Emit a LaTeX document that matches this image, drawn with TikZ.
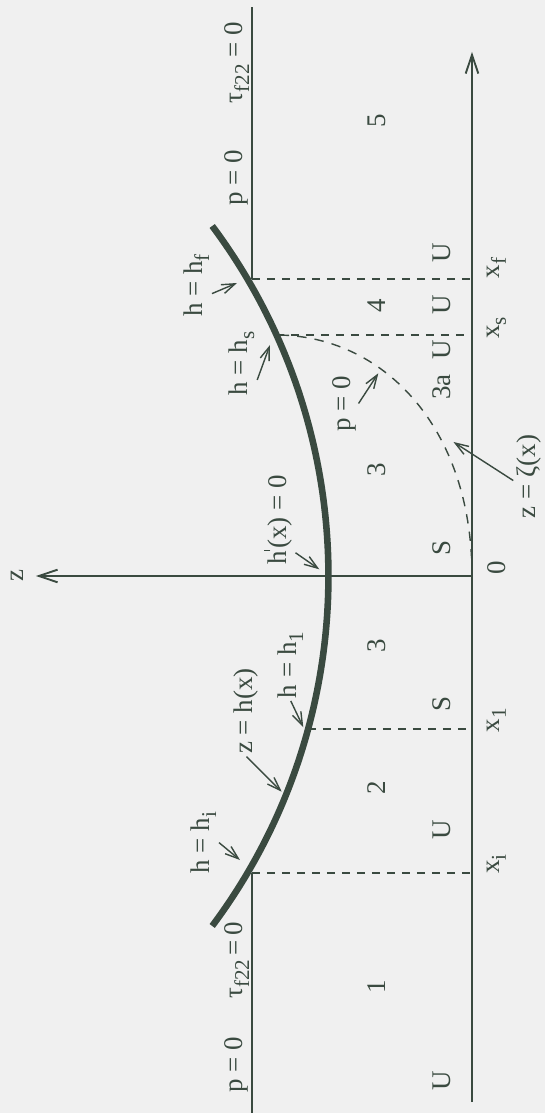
\documentclass[tikz,border=0pt]{standalone}
\usepackage{fontspec}
\setmainfont{Liberation Serif}
\usepackage{tikz}
\usetikzlibrary{arrows.meta}
\definecolor{ink}{RGB}{58,74,64}
\definecolor{paper}{RGB}{240,240,240}
\newcommand{\lo}[1]{\raisebox{-0.5ex}{\fontsize{9}{10}\selectfont #1}}
\newcommand{\tick}{\raisebox{1.35ex}{\rule{0.5pt}{0.55ex}}\kern0.6pt}

\begin{document}
\begin{tikzpicture}[x=0.015cm, y=0.015cm, rotate=90, transform shape,
	every node/.style={font=\fontsize{11.5}{14}\selectfont, text=ink, inner sep=1pt},
	axis/.style={draw=ink, line width=0.8pt, -{Straight Barb[length=2.8mm, width=1.9mm]}},
	wall/.style={draw=ink, line width=0.6pt},
	cut/.style={draw=ink, line width=0.7pt, dash pattern=on 3.4pt off 3pt},
	surf/.style={draw=ink, line width=2.8pt},
	pointer/.style={draw=ink, line width=0.6pt, -{Straight Barb[length=2mm, width=1.4mm]}},
	note/.style={anchor=base}, axlab/.style={anchor=north}]
	\fill[paper] (-537,-73) rectangle (576,472);
	\useasboundingbox (-537,-73) rectangle (576,472);
	\coordinate (O) at (0,0);
	\coordinate (xi) at (-297,0);
	\coordinate (x1) at (-153,0);
	\coordinate (xs) at (241,0);
	\coordinate (xf) at (297,0);
	\coordinate (ci) at (-297,220);
	\coordinate (c1) at (-153,164);
	\coordinate (cs) at (241,196);
	\coordinate (cf) at (297,220);
	\draw[axis] (-526,0) -- (524,0);
	\draw[axis] (O) -- (0,436);
	\node[note] (zlab) at (0,448) {z};
	\draw[wall] (-537,220) -- (ci);
	\draw[wall] (cf) -- (569,220);
	\draw[cut] (ci) -- (xi);
	\draw[cut] (c1) -- (x1);
	\draw[cut] (cs) -- (xs);
	\draw[cut] (cf) -- (xf);
	\draw[surf] (-350,259.8) arc (233.25:306.75:585);
	\draw[draw=ink, line width=0.6pt, dash pattern=on 4pt off 3.5pt] (O) .. controls (150,0) and (241,90) .. (cs);
	\node[note] (ptop) at (398.5,229) {p = 0};
	\node[note] (ttop) at (513.5,229) {τ\lo{f22} = 0};
	\node[note] (pbot) at (-489,229) {p = 0};
	\node[note] (tbot) at (-384.5,229) {τ\lo{f22}\,=\,0};
	\node (r1) at (-411,95) {1};
	\node (r2) at (-212,95) {2};
	\node (r3l) at (-70,95) {3};
	\node (r3r) at (106,95) {3};
	\node (r4) at (270,95) {4};
	\node (r5) at (455,95) {5};
	\node (r3a) at (189,30) {3a};
	\node (u1) at (-505,30) {U};
	\node (u2) at (-254,30) {U};
	\node (s1) at (-128,30) {S};
	\node (s2) at (28,30) {S};
	\node (u3) at (226,30) {U};
	\node (u4) at (271,30) {U};
	\node (u5) at (323,30) {U};
	\node[axlab] (lxi) at (-288,-12.5) {x\lo{i}};
	\node[axlab] (lx1) at (-144,-12.5) {x\lo{1}};
	\node[axlab] (l0) at (8,-12.5) {0};
	\node[axlab] (lxs) at (248,-12.5) {x\lo{s}};
	\node[axlab] (lxf) at (308,-12.5) {x\lo{f}};
	\node[note] (hf) at (290.5,269) {h = h\lo{f}};
	\node[note] (hs) at (212.5,224) {h = h\lo{s}};
	\node[note] (pz) at (172.5,122) {p = 0};
	\node[note] (hp) at (56,185) {h\tick(x) = 0};
	\node[note] (h1) at (-89,175) {h = h\lo{1}};
	\node[note] (hx) at (-135,219) {z = h(x)};
	\node[note] (hi) at (-266.6,262) {h = h\lo{i}};
	\node[note] (zeta) at (99.5,-63) {z = ζ(x)};
	\coordinate (af) at (293,235);
	\coordinate (as) at (231,202);
	\coordinate (ap) at (202.7,93.7);
	\coordinate (av) at (6.7,152.7);
	\coordinate (a1) at (-151.3,168.7);
	\coordinate (ah) at (-215.7,190.3);
	\coordinate (ai) at (-284,232);
	\coordinate (az) at (134,18.5);
	\draw[pointer] (hf.242) -- (af);
	\draw[pointer] (hs.223) -- (as);
	\draw[pointer] (pz.south) -- (ap);
	\draw[pointer] (hp.208) -- (av);
	\draw[pointer] (h1.west) -- (a1);
	\draw[pointer] (hx.west) -- (ah);
	\draw[pointer] (hi.south) -- (ai);
	\draw[pointer] (zeta.105) -- (az);
\end{tikzpicture}
\end{document}
